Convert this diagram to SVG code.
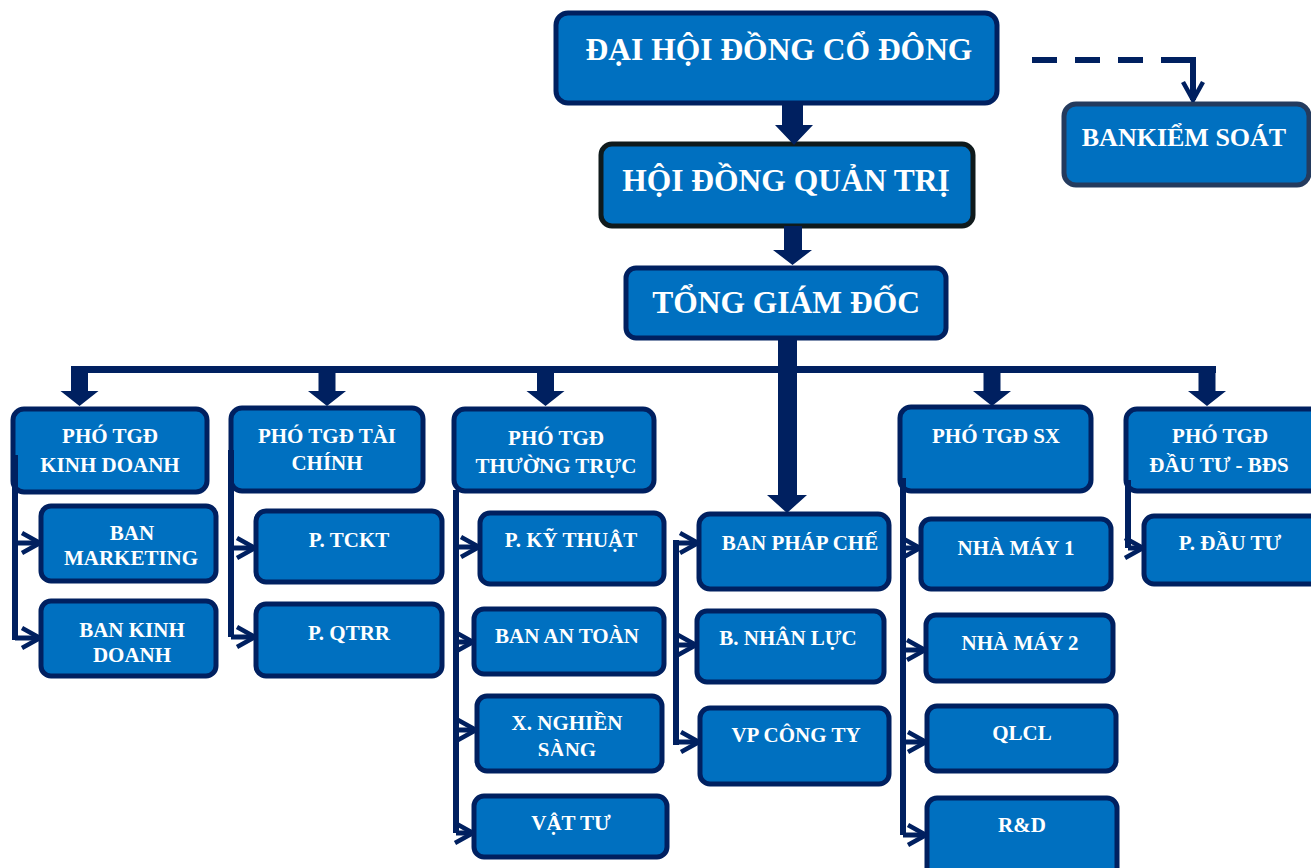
<svg xmlns="http://www.w3.org/2000/svg" width="1311" height="868" viewBox="0 0 1311 868">
<style>
.box{fill:#0070C0;stroke:#002060;stroke-width:5}
.t{fill:#ffffff;font-family:"Liberation Serif","Times New Roman",serif;font-weight:bold;text-anchor:middle}
.t1{font-size:31.5px}
.t2{font-size:21px}
.ln{fill:none;stroke:#002060;stroke-width:6}
.br{fill:none;stroke:#002060;stroke-width:5;marker-end:url(#chev)}
.blk{fill:#002060}
</style>
<defs>
<marker id="chev" viewBox="0 0 22 24" refX="20" refY="12" markerWidth="22" markerHeight="24" markerUnits="userSpaceOnUse" orient="auto">
<path d="M2,2 L20,12 L2,22" fill="none" stroke="#002060" stroke-width="4.5"/>
</marker>
<path id="ba" d="M-8.5,0 h17 v21 h10.5 l-19,15 l-19,-15 h10.5 z"/>
<clipPath id="clipX"><rect x="470" y="690" width="200" height="66"/></clipPath>
</defs>

<g id="n-dhcd">
<rect class="box" x="556" y="13" width="441" height="90" rx="12"/>
<text class="t t1" x="779" y="60">ĐẠI HỘI ĐỒNG CỔ ĐÔNG</text>
</g>
<g id="n-bks">
<rect class="box" x="1064" y="104" width="245" height="81" rx="12" style="stroke:#243B5E"/>
<text class="t" x="1184" y="146" font-size="26">BANKIỂM SOÁT</text>
</g>
<g id="n-hdqt">
<rect class="box" x="601" y="144" width="372" height="82" rx="11" style="stroke:#0f1a1c"/>
<text class="t t1" x="786" y="191" font-size="32">HỘI ĐỒNG QUẢN TRỊ</text>
</g>
<g id="n-tgd">
<rect class="box" x="626" y="268" width="320" height="70" rx="10"/>
<text class="t t1" x="786" y="313">TỔNG GIÁM ĐỐC</text>
</g>

<g id="n-pkd">
<rect class="box" x="13" y="409" width="194" height="83" rx="11"/>
<text class="t t2" x="110" y="443">PHÓ TGĐ</text>
<text class="t t2" x="110" y="472">KINH DOANH</text>
</g>
<g id="n-ptc">
<rect class="box" x="231" y="408" width="192" height="83" rx="11"/>
<text class="t t2" x="327" y="443">PHÓ TGĐ TÀI</text>
<text class="t t2" x="327" y="470">CHÍNH</text>
</g>
<g id="n-ptt">
<rect class="box" x="454" y="409" width="200" height="82" rx="11"/>
<text class="t t2" x="556" y="445">PHÓ TGĐ</text>
<text class="t t2" x="556" y="473">THƯỜNG TRỰC</text>
</g>
<g id="n-psx">
<rect class="box" x="900" y="407" width="191" height="84" rx="11"/>
<text class="t t2" x="996" y="443">PHÓ TGĐ SX</text>
</g>
<g id="n-pdt">
<rect class="box" x="1126" y="409" width="200" height="82" rx="11"/>
<text class="t t2" x="1220" y="443">PHÓ TGĐ</text>
<text class="t t2" x="1219" y="472">ĐẦU TƯ - BĐS</text>
</g>

<g id="n-mkt">
<rect class="box" x="41" y="506" width="175" height="75" rx="10"/>
<text class="t t2" x="132" y="540">BAN</text>
<text class="t t2" x="131" y="565">MARKETING</text>
</g>
<g id="n-bkd">
<rect class="box" x="41" y="601" width="175" height="75" rx="10"/>
<text class="t t2" x="132" y="637">BAN KINH</text>
<text class="t t2" x="132" y="662">DOANH</text>
</g>
<g id="n-tckt">
<rect class="box" x="256" y="511" width="186" height="71" rx="10"/>
<text class="t t2" x="349" y="547">P. TCKT</text>
</g>
<g id="n-qtrr">
<rect class="box" x="256" y="604" width="186" height="72" rx="10"/>
<text class="t t2" x="349" y="640">P. QTRR</text>
</g>
<g id="n-kt">
<rect class="box" x="480" y="513" width="184" height="71" rx="10"/>
<text class="t t2" x="571" y="547">P. KỸ THUẬT</text>
</g>
<g id="n-at">
<rect class="box" x="474" y="609" width="190" height="65" rx="10"/>
<text class="t t2" x="567" y="643">BAN AN TOÀN</text>
</g>
<g id="n-xns">
<rect class="box" x="477" y="696" width="185" height="75" rx="10"/>
<g clip-path="url(#clipX)">
<text class="t t2" x="567" y="730">X. NGHIỀN</text>
<text class="t t2" x="567" y="757">SÀNG</text>
</g>
</g>
<g id="n-vt">
<rect class="box" x="474" y="796" width="193" height="61" rx="10"/>
<text class="t t2" x="571" y="830">VẬT TƯ</text>
</g>
<g id="n-bpc">
<rect class="box" x="699" y="514" width="190" height="75" rx="11"/>
<text class="t t2" x="800" y="550">BAN PHÁP CHẾ</text>
</g>
<g id="n-bnl">
<rect class="box" x="697" y="611" width="187" height="71" rx="10"/>
<text class="t t2" x="788" y="645">B. NHÂN LỰC</text>
</g>
<g id="n-vp">
<rect class="box" x="700" y="708" width="189" height="76" rx="10"/>
<text class="t t2" x="796" y="742">VP CÔNG TY</text>
</g>
<g id="n-nm1">
<rect class="box" x="921" y="519" width="190" height="70" rx="10"/>
<text class="t t2" x="1016" y="555">NHÀ MÁY 1</text>
</g>
<g id="n-nm2">
<rect class="box" x="926" y="615" width="187" height="66" rx="10"/>
<text class="t t2" x="1020" y="650">NHÀ MÁY 2</text>
</g>
<g id="n-qlcl">
<rect class="box" x="927" y="706" width="189" height="65" rx="10"/>
<text class="t t2" x="1022" y="740">QLCL</text>
</g>
<g id="n-rd">
<rect class="box" x="927" y="798" width="190" height="80" rx="10"/>
<text class="t t2" x="1022" y="832">R&amp;D</text>
</g>
<g id="n-pdtu">
<rect class="box" x="1144" y="516" width="180" height="68" rx="10"/>
<text class="t t2" x="1230" y="550">P. ĐẦU TƯ</text>
</g>

<g id="connectors">
<path class="blk" d="M782,103 h21 v22 h10 l-19,20 l-19,-20 h7 z"/>
<path class="blk" d="M784,226 h18 v24 h10 l-19.5,15 l-19.5,-15 h11 z"/>
<path class="blk" d="M778,338 h19 v157 h10 l-20,18 l-20,-18 h11 z"/>
<rect class="blk" x="71" y="366" width="1145" height="7"/>
<use href="#ba" x="79.5" y="370" class="blk"/>
<use href="#ba" x="327" y="370" class="blk"/>
<use href="#ba" x="545.5" y="370" class="blk"/>
<use href="#ba" x="992" y="370" class="blk"/>
<use href="#ba" x="1207" y="370" class="blk"/>

<path d="M1032,60 H1186" fill="none" stroke="#002060" stroke-width="6" stroke-dasharray="25 18"/>
<path d="M1186,60 H1193 V100" fill="none" stroke="#002060" stroke-width="6" marker-end="url(#chev)"/>

<path class="ln" d="M15,455 V640"/>
<path class="br" d="M15,543 H40"/>
<path class="br" d="M15,638 H40"/>

<path class="ln" d="M231,450 V637"/>
<path class="br" d="M231,548 H255"/>
<path class="br" d="M231,637 H255"/>

<path class="ln" d="M456,490 V833"/>
<path class="br" d="M456,547 H479"/>
<path class="br" d="M456,642 H473"/>
<path class="br" d="M456,730 H476"/>
<path class="br" d="M456,833 H473"/>

<path class="ln" d="M676,540 V745"/>
<path class="br" d="M676,543 H698"/>
<path class="br" d="M676,645 H696"/>
<path class="br" d="M676,742 H699"/>

<path class="ln" d="M903,478 V835"/>
<path class="br" d="M903,548 H920"/>
<path class="br" d="M903,650 H925"/>
<path class="br" d="M903,742 H926"/>
<path class="br" d="M903,835 H926"/>

<path class="ln" d="M1128,480 V548"/>
<path class="br" d="M1128,548 H1143"/>
</g>
</svg>
